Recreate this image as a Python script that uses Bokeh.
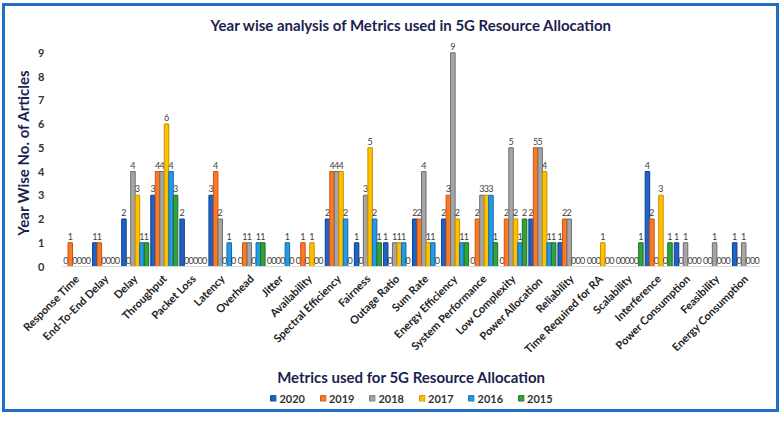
import math
from bokeh.plotting import figure
from bokeh.layouts import column
from bokeh.models import ColumnDataSource, FactorRange, Range1d, Legend, LegendItem, Title
from bokeh.transform import dodge
from bokeh.core.properties import value
from bokeh.embed import file_html
from bokeh.resources import INLINE

categories = ["Response Time", "End-To-End Delay", "Delay", "Throughput", "Packet Loss",
              "Latency", "Overhead", "Jitter", "Availability", "Spectral Efficiency",
              "Fairness", "Outage Ratio", "Sum Rate", "Energy Efficiency",
              "System Performance", "Low Complexity", "Power  Allocation", "Reliability",
              "Time Required for RA", "Scalability", "Interference", "Power Consumption",
              "Feasibility", "Energy Consumption"]

years = ["2020", "2019", "2018", "2017", "2016", "2015"]

y2020 = [0, 1, 2, 3, 2, 3, 0, 0, 0, 2, 1, 1, 2, 2, 0, 0, 2, 1, 0, 0, 4, 1, 0, 1]
y2019 = [1, 1, 0, 4, 0, 4, 1, 0, 1, 4, 0, 0, 2, 3, 2, 2, 5, 2, 0, 0, 2, 0, 0, 0]
y2018 = [0, 0, 4, 4, 0, 2, 1, 0, 0, 4, 3, 1, 4, 9, 3, 5, 5, 2, 0, 0, 0, 1, 1, 1]
y2017 = [0, 0, 3, 6, 0, 0, 0, 0, 1, 4, 5, 1, 1, 2, 3, 2, 4, 0, 1, 0, 3, 0, 0, 0]
y2016 = [0, 0, 1, 4, 0, 1, 1, 1, 0, 2, 2, 1, 1, 1, 3, 1, 1, 0, 0, 0, 0, 0, 0, 0]
y2015 = [0, 0, 1, 3, 0, 0, 1, 0, 0, 0, 1, 0, 0, 1, 1, 2, 1, 0, 0, 1, 1, 0, 0, 0]

series = [y2020, y2019, y2018, y2017, y2016, y2015]
fills = ["#1f63c6", "#ff7a1f", "#a6a6a6", "#ffc000", "#259be6", "#33a23c"]
edges = ["#0f3f8a", "#c4561a", "#6e6e6e", "#c79200", "#1469a8", "#1f6e26"]

FONT = "Lato"
NAVY = "#1b1f4f"
BORDER = "3px solid #1f6fc5"

data = {"cat": categories}
for yr, vals in zip(years, series):
    data[yr] = vals
    data["t" + yr] = [str(v) for v in vals]
source = ColumnDataSource(data)

xr = FactorRange(*categories)
p = figure(x_range=xr, y_range=Range1d(0, 9.6),
           frame_width=692, frame_height=225,
           output_backend="svg", toolbar_location=None,
           min_border_left=57, min_border_right=22, min_border_top=32, min_border_bottom=2)

p.title.text = "Year wise analysis of Metrics used in 5G Resource Allocation"
p.title.align = "center"
p.title.text_font = FONT
p.title.text_font_size = "15px"
p.title.text_font_style = "bold"
p.title.text_color = NAVY

bw = 0.155
offsets = [(-2.5 + i) * bw for i in range(6)]
for i, yr in enumerate(years):
    p.vbar(x=dodge("cat", offsets[i], range=xr), top=yr, width=bw,
           source=source, fill_color=fills[i], line_color=edges[i], line_width=1)
    p.text(x=dodge("cat", offsets[i], range=xr), y=yr, text="t" + yr,
           source=source, text_align="center", text_baseline="bottom", y_offset=-3,
           text_font=value(FONT), text_font_size="9px", text_color="#404040")

xtitle = Title(text="Metrics used for 5G Resource Allocation", align="center",
               text_font=FONT, text_font_size="15px", text_font_style="bold",
               text_color=NAVY, standoff=4)
p.add_layout(xtitle, "below")

p.xaxis.major_label_orientation = math.pi / 4
p.xaxis.major_label_text_font = FONT
p.xaxis.major_label_text_font_size = "11px"
p.xaxis.major_label_text_font_style = "bold"
p.xaxis.major_label_text_color = "#222222"
p.xaxis.axis_line_color = "#d9d9d9"
p.xaxis.major_tick_line_color = None
p.xaxis.minor_tick_line_color = None
p.xaxis.major_label_standoff = 4

p.yaxis.axis_label = "Year Wise No. of Articles"
p.yaxis.axis_label_text_font = FONT
p.yaxis.axis_label_text_font_size = "15px"
p.yaxis.axis_label_text_font_style = "bold"
p.yaxis.axis_label_text_color = NAVY
p.yaxis.axis_label_standoff = 3
p.yaxis.major_label_text_font = FONT
p.yaxis.major_label_text_font_size = "11px"
p.yaxis.major_label_text_font_style = "bold"
p.yaxis.major_label_text_color = "#333333"
p.yaxis.ticker = list(range(0, 10))
p.yaxis.axis_line_color = None
p.yaxis.major_tick_line_color = None
p.yaxis.minor_tick_line_color = None
p.yaxis.major_label_standoff = 12

p.xgrid.grid_line_color = None
p.ygrid.grid_line_color = None
p.outline_line_color = None
p.styles = {"border-top": BORDER, "border-left": BORDER, "border-right": BORDER}

# legend strip: same bars drawn out of view, only the legend shows
lf = figure(x_range=xr, y_range=Range1d(20, 21), width=777, height=28,
            output_backend="svg", toolbar_location=None,
            min_border_left=0, min_border_right=0, min_border_top=0, min_border_bottom=0)
items = []
for i, yr in enumerate(years):
    r = lf.vbar(x=dodge("cat", offsets[i], range=xr), top=yr, width=bw,
                source=source, fill_color=fills[i], line_color=edges[i], line_width=1)
    items.append(LegendItem(label=yr, renderers=[r]))
legend = Legend(items=items, orientation="horizontal", location="center",
                label_text_font=FONT, label_text_font_size="11px",
                label_text_font_style="bold", label_text_color="#333333",
                glyph_width=7, glyph_height=7, spacing=14, padding=0, margin=0,
                border_line_color=None, background_fill_alpha=0, label_standoff=3)
lf.add_layout(legend, "center")
lf.axis.visible = False
lf.xgrid.grid_line_color = None
lf.ygrid.grid_line_color = None
lf.outline_line_color = None
lf.styles = {"border-bottom": BORDER, "border-left": BORDER, "border-right": BORDER}

layout = column(p, lf, spacing=0, styles={"margin": "3px 0 0 2px"})

open("out.html", "w").write(file_html(layout, INLINE))
